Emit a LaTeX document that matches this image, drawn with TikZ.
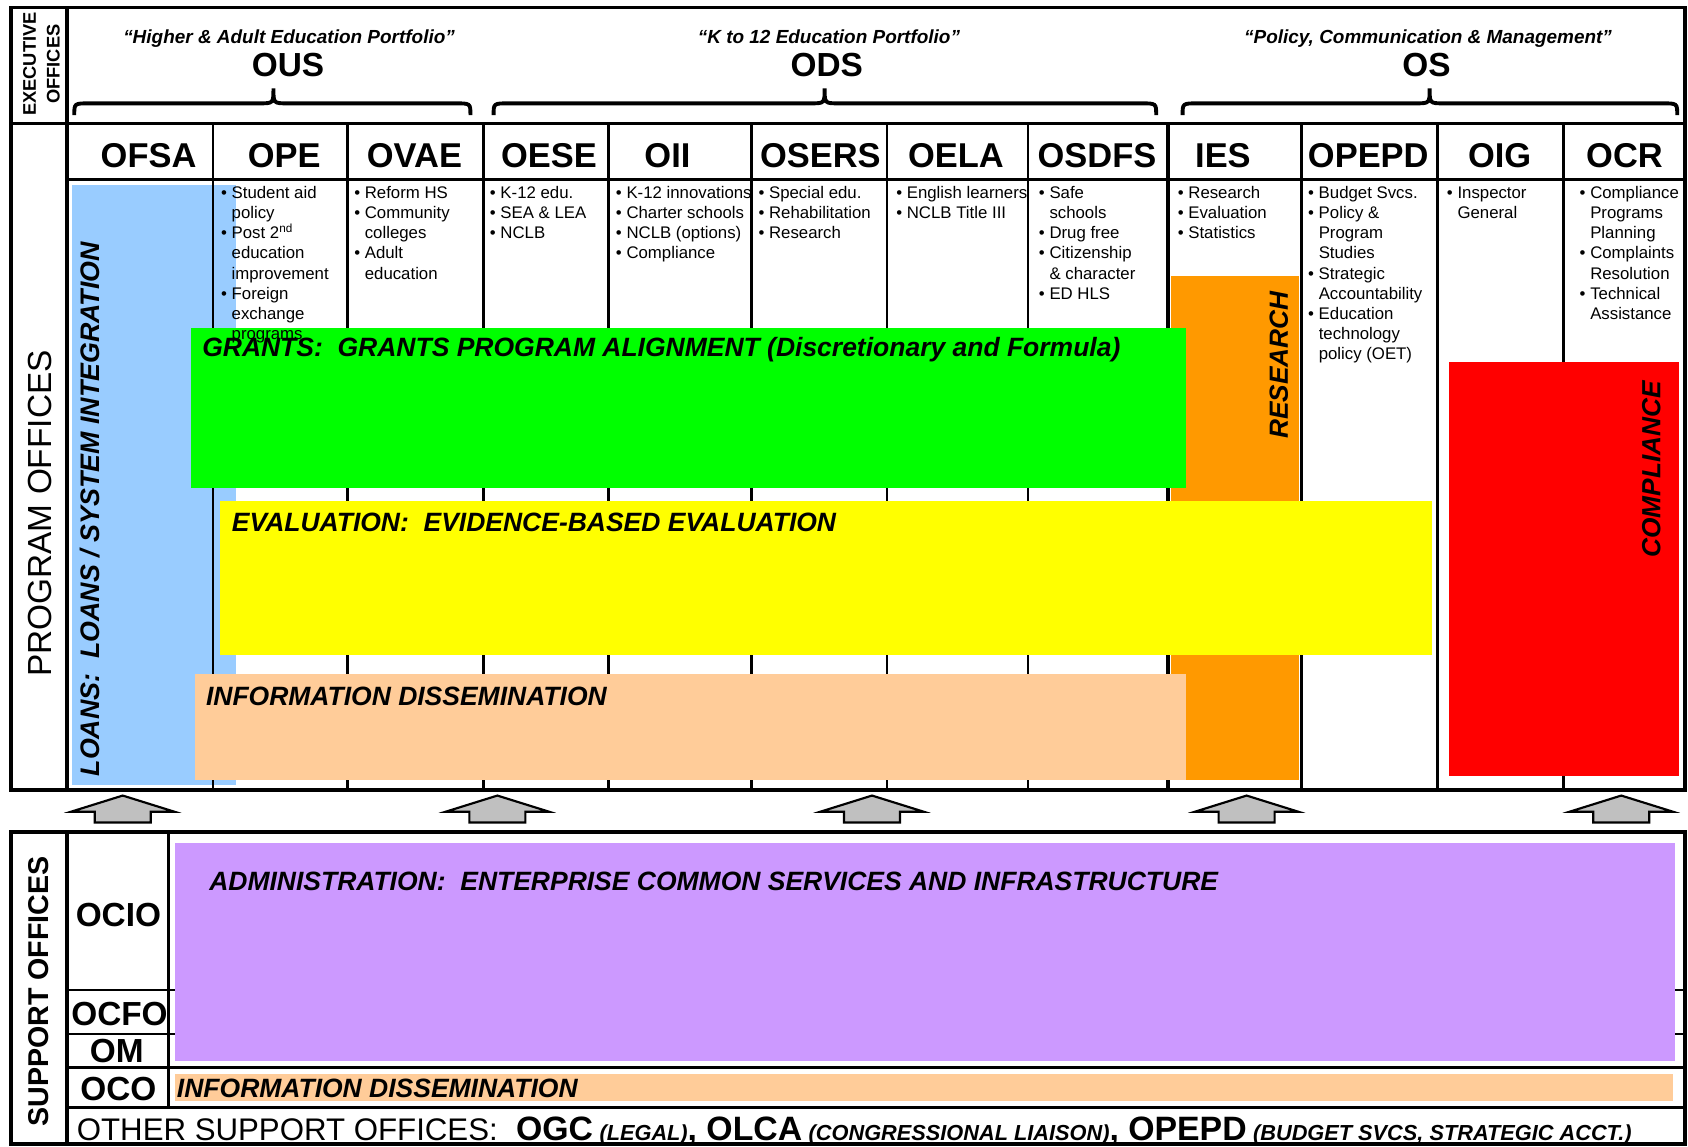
\documentclass[tikz,border=0pt]{standalone}
\usepackage{fontspec}
\setmainfont{Liberation Sans}
\definecolor{loanblue}{HTML}{99CCFF}
\definecolor{grantgreen}{HTML}{00FF00}
\definecolor{evalyellow}{HTML}{FFFF00}
\definecolor{infopeach}{HTML}{FFCC99}
\definecolor{resorange}{HTML}{FF9900}
\definecolor{comred}{HTML}{FF0000}
\definecolor{adminpurple}{HTML}{CC99FF}
\definecolor{arrgray}{HTML}{C0C0C0}
\newcommand\fsz[1]{\fontsize{#1}{#1}\selectfont}
\newcommand\bi[1]{\hbox{\textbullet\ #1}}
\newcommand\ci[1]{\hbox{\phantom{\textbullet\ }#1}}
\newcommand\blist[1]{\vtop{\fontsize{7.8pt}{9.4pt}\selectfont #1}}
\newcommand\ebrace[3]{\draw[braceline] (#1,107) .. controls (#1,96) .. (#1+14,96) -- (#2-13,96) .. controls (#2,96) .. (#2,82) .. controls (#2,96) .. (#2+13,96) -- (#3-14,96) .. controls (#3,96) .. (#3,107);}
\newcommand\uparr[2]{\draw[arrowshape] (#2,739) -- (#2+48,754) -- (#2+26,754) -- (#2+26,764) -- (#2-26,764) -- (#2-26,754) -- (#2-48,754) -- cycle; \coordinate (#1) at (#2,752);}
\begin{document}
\begin{tikzpicture}[x=0.5pt,y=-0.5pt,
  frameline/.style={line width=1.75pt},
  sepline/.style={line width=1.5pt},
  divline/.style={line width=1.2pt},
  thinline/.style={line width=0.8pt},
  braceline/.style={line width=1.8pt},
  arrowshape/.style={fill=arrgray,draw=black,line width=1pt,line join=miter},
  hdr/.style={font=\bfseries\fsz{16}, inner sep=0, anchor=base},
  ttl/.style={font=\bfseries\fsz{15.5}, inner sep=0, anchor=base},
  subttl/.style={font=\bfseries\itshape\fsz{8.8}, inner sep=0, anchor=base},
  blt/.style={inner sep=0, anchor=base west},
  band/.style={font=\bfseries\itshape\fsz{12.3}, inner sep=0, anchor=base west},
  vband/.style={font=\bfseries\itshape\fsz{12.2}, inner sep=0, rotate=90},
  sup/.style={font=\bfseries\fsz{15.5}, inner sep=0, anchor=base}]
\useasboundingbox (0,0) rectangle (1568,1065);
\fill[white] (0,0) rectangle (1568,1065);

% ---------- program offices: loans column background
\fill[loanblue] (67,172) rectangle (219,729);

% ---------- program offices grid
\draw[frameline] (10,7) rectangle (1565,734);
\draw[frameline] (62,7) -- (62,734);
\draw[sepline] (10,115) -- (1565,115);
\draw[divline] (62,167) -- (1565,167);
\foreach \x in {198,323,565,698,955} \draw[divline] (\x,115) -- (\x,734);
\draw[thinline] (824,115) -- (824,734);
\foreach \x in {449,1085,1209,1335,1452} \draw[sepline] (\x,115) -- (\x,734);

% ---------- functional bands
\fill[resorange] (1088,256.5) rectangle (1207,725);
\fill[grantgreen] (177.5,305) rectangle (1102,453);
\fill[evalyellow] (204.5,465.5) rectangle (1330,608);
\fill[infopeach] (181.5,626) rectangle (1102,725);
\fill[comred] (1346,336) rectangle (1560,721);

\node[band] (grants) at (187.5,331) {GRANTS:\ \ GRANTS PROGRAM ALIGNMENT (Discretionary and Formula)};
\node[band] (evaluation) at (215,494) {EVALUATION:\ \ EVIDENCE-BASED EVALUATION};
\node[band] (infoprog) at (191,655) {INFORMATION DISSEMINATION};
\node[vband, font=\bfseries\itshape\fsz{12.45}] (loans) at (84,473) {LOANS:\ \ LOANS / SYSTEM INTEGRATION};
\node[vband] (research) at (1188,339) {RESEARCH};
\node[vband] (compliance) at (1534,436) {COMPLIANCE};

% ---------- labels of left column
\node[rotate=90, align=center, font=\bfseries\fontsize{8.5}{11}\selectfont, inner sep=0] (execlbl) at (38.5,59.5) {EXECUTIVE\\OFFICES};
\node[rotate=90, font=\fsz{15.5}, inner sep=0] (proglbl) at (37,477) {PROGRAM OFFICES};

% ---------- executive offices
\node[subttl] (ousport) at (268.5,40.5) {“Higher \& Adult Education Portfolio”};
\node[subttl] (odsport) at (770,40.5) {“K to 12 Education Portfolio”};
\node[subttl] (osport) at (1326.5,40.5) {“Policy, Communication \& Management”};
\node[ttl] (ous) at (267.5,71.5) {OUS};
\node[ttl] (ods) at (768,71.5) {ODS};
\node[ttl] (os) at (1325,71.5) {OS};
\ebrace{69}{254}{437}
\ebrace{458.5}{766}{1074}
\ebrace{1098.5}{1328}{1558}

% ---------- column headers
\node[hdr] (hOFSA) at (138,155.5) {OFSA};
\node[hdr] (hOPE) at (264,155.5) {OPE};
\node[hdr] (hOVAE) at (385,155.5) {OVAE};
\node[hdr] (hOESE) at (510,155.5) {OESE};
\node[hdr] (hOII) at (620,155.5) {OII};
\node[hdr] (hOSERS) at (762,155.5) {OSERS};
\node[hdr] (hOELA) at (888,155.5) {OELA};
\node[hdr] (hOSDFS) at (1019,155.5) {OSDFS};
\node[hdr] (hIES) at (1136,155.5) {IES};
\node[hdr] (hOPEPD) at (1271,155.5) {OPEPD};
\node[hdr] (hOIG) at (1393,155.5) {OIG};
\node[hdr] (hOCR) at (1509,155.5) {OCR};

% ---------- bullet lists
\node[blt] (bOPE) at (205,184) {\blist{\bi{Student aid}\ci{policy}\bi{Post 2\textsuperscript{nd}}\ci{education}\ci{improvement}\bi{Foreign}\ci{exchange}\ci{programs}}};
\node[blt] (bOVAE) at (328.7,184) {\blist{\bi{Reform HS}\bi{Community}\ci{colleges}\bi{Adult}\ci{education}}};
\node[blt] (bOESE) at (454.7,184) {\blist{\bi{K-12 edu.}\bi{SEA \& LEA}\bi{NCLB}}};
\node[blt] (bOII) at (571.8,184) {\blist{\bi{K-12 innovations}\bi{Charter schools}\bi{NCLB (options)}\bi{Compliance}}};
\node[blt] (bOSERS) at (704.2,184) {\blist{\bi{Special edu.}\bi{Rehabilitation}\bi{Research}}};
\node[blt] (bOELA) at (832.2,184) {\blist{\bi{English learners}\bi{NCLB Title III}}};
\node[blt] (bOSDFS) at (964.7,184) {\blist{\bi{Safe}\ci{schools}\bi{Drug free}\bi{Citizenship}\ci{\& character}\bi{ED HLS}}};
\node[blt] (bIES) at (1093.7,184) {\blist{\bi{Research}\bi{Evaluation}\bi{Statistics}}};
\node[blt] (bOPEPD) at (1214.8,184) {\blist{\bi{Budget Svcs.}\bi{Policy \&}\ci{Program}\ci{Studies}\bi{Strategic}\ci{Accountability}\bi{Education}\ci{technology}\ci{policy (OET)}}};
\node[blt] (bOIG) at (1343.7,184) {\blist{\bi{Inspector}\ci{General}}};
\node[blt] (bOCR) at (1467,184) {\blist{\bi{Compliance}\ci{Programs}\ci{Planning}\bi{Complaints}\ci{Resolution}\bi{Technical}\ci{Assistance}}};

% ---------- arrows from support to program offices
\uparr{a1}{114}
\uparr{a2}{462}
\uparr{a3}{810}
\uparr{a4}{1158}
\uparr{a5}{1506}

% ---------- support offices
\fill[adminpurple] (162.5,783.5) rectangle (1556,985.5);
\fill[infopeach] (162.5,997.5) rectangle (1554,1022.5);
\draw[frameline] (10,772.5) rectangle (1565,1063);
\draw[frameline] (62,772.5) -- (62,1063);
\draw[divline] (156.5,772.5) -- (156.5,1028.5);
\draw[divline] (62,919.5) -- (162.5,919.5) (1556,919.5) -- (1565,919.5);
\draw[divline] (62,960.5) -- (162.5,960.5) (1556,960.5) -- (1565,960.5);
\draw[divline] (62,991.5) -- (1565,991.5);
\draw[sepline] (62,1028.5) -- (1565,1028.5);

\node[rotate=90, font=\bfseries\fsz{13.3}, inner sep=0] (suplbl) at (36,921) {SUPPORT OFFICES};
\node[sup] (ocio) at (110,860.5) {OCIO};
\node[sup] (ocfo) at (111,952.8) {OCFO};
\node[sup] (om) at (108.5,987.2) {OM};
\node[sup] (oco) at (110,1021.8) {OCO};
\node[band] (admin) at (194,827) {ADMINISTRATION:\ \ ENTERPRISE COMMON SERVICES AND INFRASTRUCTURE};
\node[band] (infosup) at (164,1019.3) {INFORMATION DISSEMINATION};
\node[inner sep=0, anchor=base west] (other) at (71,1059) {{\fsz{14.5}OTHER SUPPORT OFFICES:}\hspace{8.5pt}{\bfseries\fsz{15.7}OGC}\hspace{3pt}{\bfseries\itshape\fsz{10.1}(LEGAL)}{\bfseries\fsz{15.7}, OLCA}\hspace{3pt}{\bfseries\itshape\fsz{10.1}(CONGRESSIONAL LIAISON)}{\bfseries\fsz{15.7}, OPEPD}\hspace{3pt}{\bfseries\itshape\fsz{10.1}(BUDGET SVCS, STRATEGIC ACCT.)}};
\end{tikzpicture}
\end{document}
